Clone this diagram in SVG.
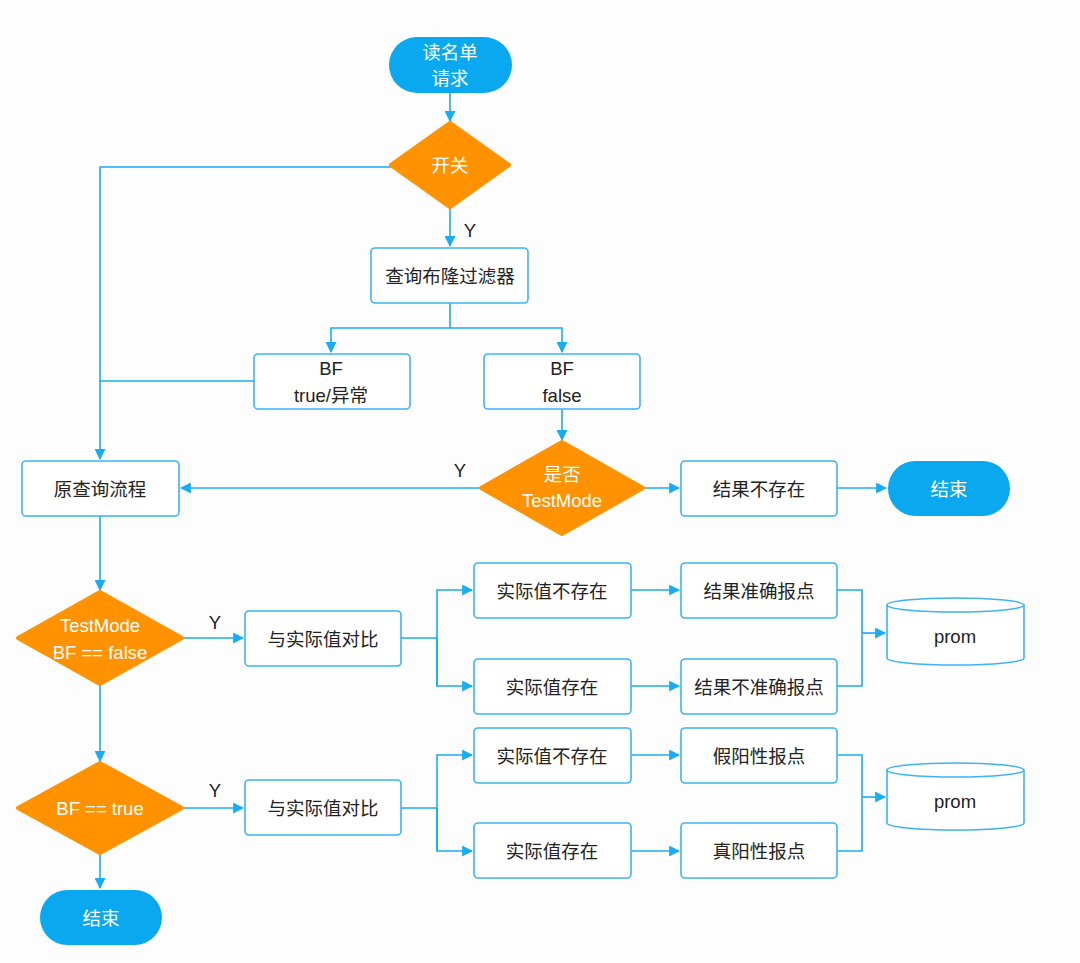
<svg xmlns="http://www.w3.org/2000/svg" width="1080" height="963" viewBox="0 0 1080 963">
<style>
text{font-family:"Liberation Sans","Noto Sans CJK SC",sans-serif;font-size:18.5px;text-anchor:middle;dominant-baseline:central;fill:#222}
.w{fill:#fff}
.box{fill:#fff;stroke:#3DB2F5;stroke-width:1.6}
.pill{fill:#0AA8EE}
.dia{fill:#FF9200}
.ln{fill:none;stroke:#1AACF2;stroke-width:1.6}
</style>
<defs><marker id="a" viewBox="0 0 10 10" refX="9" refY="5" markerWidth="11" markerHeight="11" orient="auto" markerUnits="userSpaceOnUse"><path d="M0,0L10,5L0,10z" fill="#1AACF2"/></marker></defs>
<rect width="1080" height="963" fill="#fdfdfe"/>
<g id="connectors">
<path class="ln" d="M450,93V121" marker-end="url(#a)"/>
<path class="ln" d="M391,167H100V459" marker-end="url(#a)"/>
<path class="ln" d="M450,207V246" marker-end="url(#a)"/>
<path class="ln" d="M450,303V328H331V352" marker-end="url(#a)"/>
<path class="ln" d="M450,328H562V352" marker-end="url(#a)"/>
<path class="ln" d="M254,381H100"/>
<path class="ln" d="M562,409V440" marker-end="url(#a)"/>
<path class="ln" d="M481,488H181" marker-end="url(#a)"/>
<path class="ln" d="M643,488H679" marker-end="url(#a)"/>
<path class="ln" d="M837,488H886" marker-end="url(#a)"/>
<path class="ln" d="M100,516V590" marker-end="url(#a)"/>
<path class="ln" d="M182,638H243" marker-end="url(#a)"/>
<path class="ln" d="M401,638H437"/>
<path class="ln" d="M437,686V590H472" marker-end="url(#a)"/>
<path class="ln" d="M437,638V686H472" marker-end="url(#a)"/>
<path class="ln" d="M631,590H679" marker-end="url(#a)"/>
<path class="ln" d="M631,686H679" marker-end="url(#a)"/>
<path class="ln" d="M837,590H862V686H837"/>
<path class="ln" d="M862,633H885" marker-end="url(#a)"/>
<path class="ln" d="M100,684V761" marker-end="url(#a)"/>
<path class="ln" d="M182,808H243" marker-end="url(#a)"/>
<path class="ln" d="M401,808H437"/>
<path class="ln" d="M437,851V755H472" marker-end="url(#a)"/>
<path class="ln" d="M437,808V851H472" marker-end="url(#a)"/>
<path class="ln" d="M631,755H679" marker-end="url(#a)"/>
<path class="ln" d="M631,851H679" marker-end="url(#a)"/>
<path class="ln" d="M837,755H862V851H837"/>
<path class="ln" d="M862,797H885" marker-end="url(#a)"/>
<path class="ln" d="M100,853V888" marker-end="url(#a)"/>
<text x="470" y="230">Y</text>
<text x="460" y="470">Y</text>
<text x="215" y="622">Y</text>
<text x="215" y="790">Y</text>
</g>
<g id="start"><rect class="pill" x="389" y="37" width="123" height="56" rx="28"/><text class="w" x="450" y="52">读名单</text><text class="w" x="450" y="78">请求</text></g>
<g id="switch"><path class="dia" d="M450,123L509,165L450,207L391,165Z" stroke="#FF9200" stroke-width="4" stroke-linejoin="round"/><text class="w" x="450" y="165">开关</text></g>
<g id="query"><rect class="box" x="371" y="248" width="157" height="55" rx="4"/><text x="450" y="276">查询布隆过滤器</text></g>
<g id="bftrue"><rect class="box" x="254" y="354" width="156" height="55" rx="4"/><text x="331" y="368">BF</text><text x="331" y="395">true/异常</text></g>
<g id="bffalse"><rect class="box" x="484" y="354" width="156" height="55" rx="4"/><text x="562" y="368">BF</text><text x="562" y="395">false</text></g>
<g id="testmode"><path class="dia" d="M562,442L643,488L562,534L481,488Z" stroke="#FF9200" stroke-width="4" stroke-linejoin="round"/><text class="w" x="562" y="474">是否</text><text class="w" x="562" y="500">TestMode</text></g>
<g id="orig"><rect class="box" x="22" y="461" width="157" height="55" rx="4"/><text x="100" y="489">原查询流程</text></g>
<g id="notexist"><rect class="box" x="681" y="461" width="156" height="55" rx="4"/><text x="759" y="489">结果不存在</text></g>
<g id="end1"><rect class="pill" x="888" y="461" width="122" height="55" rx="27.5"/><text class="w" x="949" y="489">结束</text></g>
<g id="d2"><path class="dia" d="M100,592L182,638L100,684L18,638Z" stroke="#FF9200" stroke-width="4" stroke-linejoin="round"/><text class="w" x="100" y="625">TestMode</text><text class="w" x="100" y="652">BF == false</text></g>
<g id="cmp1"><rect class="box" x="245" y="611" width="156" height="55" rx="4"/><text x="323" y="639">与实际值对比</text></g>
<g id="a1"><rect class="box" x="474" y="563" width="157" height="55" rx="4"/><text x="552" y="591">实际值不存在</text></g>
<g id="a2"><rect class="box" x="474" y="659" width="157" height="55" rx="4"/><text x="552" y="687">实际值存在</text></g>
<g id="r1"><rect class="box" x="681" y="563" width="156" height="55" rx="4"/><text x="759" y="591">结果准确报点</text></g>
<g id="r2"><rect class="box" x="681" y="659" width="156" height="55" rx="4"/><text x="759" y="687">结果不准确报点</text></g>
<g id="prom1"><path class="box" d="M887,605V658A68.5,7 0 0 0 1024,658V605"/><ellipse class="box" cx="955.5" cy="605" rx="68.5" ry="7"/><text x="955" y="636">prom</text></g>
<g id="d3"><path class="dia" d="M100,763L182,808L100,853L18,808Z" stroke="#FF9200" stroke-width="4" stroke-linejoin="round"/><text class="w" x="100" y="808">BF == true</text></g>
<g id="cmp2"><rect class="box" x="245" y="780" width="156" height="55" rx="4"/><text x="323" y="808">与实际值对比</text></g>
<g id="a3"><rect class="box" x="474" y="728" width="157" height="55" rx="4"/><text x="552" y="756">实际值不存在</text></g>
<g id="a4"><rect class="box" x="474" y="823" width="157" height="55" rx="4"/><text x="552" y="851">实际值存在</text></g>
<g id="r3"><rect class="box" x="681" y="728" width="156" height="55" rx="4"/><text x="759" y="756">假阳性报点</text></g>
<g id="r4"><rect class="box" x="681" y="823" width="156" height="55" rx="4"/><text x="759" y="851">真阳性报点</text></g>
<g id="prom2"><path class="box" d="M887,770V823A68.5,7 0 0 0 1024,823V770"/><ellipse class="box" cx="955.5" cy="770" rx="68.5" ry="7"/><text x="955" y="801">prom</text></g>
<g id="end2"><rect class="pill" x="40" y="890" width="122" height="55" rx="27.5"/><text class="w" x="101" y="918">结束</text></g>
</svg>
